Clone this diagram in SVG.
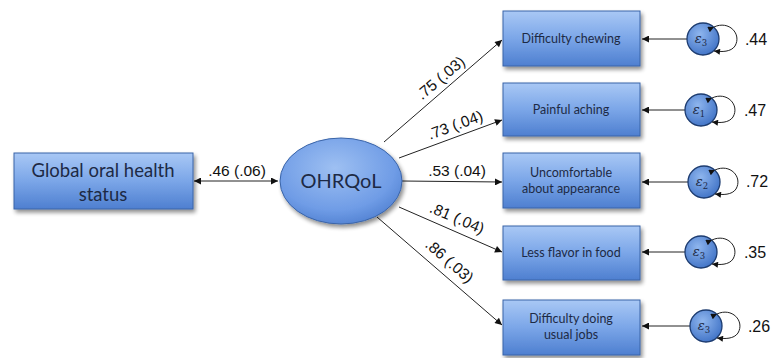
<svg xmlns="http://www.w3.org/2000/svg" width="771" height="358" viewBox="0 0 771 358">
<defs>
<linearGradient id="boxg" x1="0" y1="0" x2="0" y2="1">
<stop offset="0" stop-color="#a9c8f5"/>
<stop offset="0.5" stop-color="#7ba6e8"/>
<stop offset="1" stop-color="#4e7fd0"/>
</linearGradient>
<radialGradient id="ellg" cx="0.45" cy="0.35" r="0.7">
<stop offset="0" stop-color="#9ec0f2"/>
<stop offset="0.7" stop-color="#6f9ce6"/>
<stop offset="1" stop-color="#4f7fd0"/>
</radialGradient>
<radialGradient id="errg" cx="0.4" cy="0.35" r="0.7">
<stop offset="0" stop-color="#8fb6ee"/>
<stop offset="1" stop-color="#3f72c6"/>
</radialGradient>
<filter id="sh" x="-10%" y="-10%" width="130%" height="130%">
<feGaussianBlur in="SourceAlpha" stdDeviation="2"/>
<feOffset dx="2" dy="3"/>
<feComponentTransfer><feFuncA type="linear" slope="0.45"/></feComponentTransfer>
<feMerge><feMergeNode/><feMergeNode in="SourceGraphic"/></feMerge>
</filter>
<marker id="ah" viewBox="0 0 10 10" refX="10" refY="5" markerWidth="10" markerHeight="7" markerUnits="userSpaceOnUse" orient="auto-start-reverse">
<path d="M0,0 L10,5 L0,10 z" fill="#111"/>
</marker>
<marker id="sm" viewBox="0 0 10 10" refX="10" refY="5" markerWidth="7" markerHeight="6" markerUnits="userSpaceOnUse" orient="auto">
<path d="M0,0 L10,5 L0,10 z" fill="#111"/>
</marker>
</defs>
<style>
.box{fill:url(#boxg);stroke:#3a64a8;stroke-width:1;filter:url(#sh)}
.bt{font-family:Lato,"Open Sans",sans-serif;font-size:12.5px;fill:#1d2a45;text-anchor:middle}
.lt{font-family:Lato,"Open Sans",sans-serif;font-size:18.5px;fill:#1d2a45;text-anchor:middle}
.pl{font-family:"Liberation Sans",Arial,sans-serif;font-size:15.5px;fill:#111;text-anchor:middle}
.ev{font-family:"Liberation Sans",Arial,sans-serif;font-size:16px;fill:#111;text-anchor:middle}
.ln{stroke:#222;stroke-width:1;fill:none}
.err{fill:url(#errg);stroke:#1d3c70;stroke-width:1.3}
.et{font-family:"DejaVu Serif","Liberation Serif",serif;font-style:italic;font-size:13px;fill:#1d2a45;text-anchor:middle}
</style>
<g id="connectors">
<line class="ln" x1="194" y1="181" x2="278" y2="181" marker-start="url(#ah)" marker-end="url(#ah)"/>
<line class="ln" x1="384" y1="142" x2="502" y2="40" marker-end="url(#ah)"/>
<line class="ln" x1="399" y1="158" x2="502" y2="120" marker-end="url(#ah)"/>
<line class="ln" x1="402" y1="181" x2="502" y2="182" marker-end="url(#ah)"/>
<line class="ln" x1="399" y1="207" x2="502" y2="252" marker-end="url(#ah)"/>
<line class="ln" x1="377" y1="217" x2="502" y2="325" marker-end="url(#ah)"/>
<line class="ln" x1="687" y1="39" x2="642" y2="39" marker-end="url(#ah)"/>
<line class="ln" x1="685" y1="110" x2="642" y2="110" marker-end="url(#ah)"/>
<line class="ln" x1="688" y1="182" x2="642" y2="182" marker-end="url(#ah)"/>
<line class="ln" x1="685" y1="252" x2="642" y2="252" marker-end="url(#ah)"/>
<line class="ln" x1="690" y1="326" x2="642" y2="326" marker-end="url(#ah)"/>
<text class="pl" x="237" y="176">.46 (.06)</text>
<text class="pl" transform="translate(444,82) rotate(-40)">.75 (.03)</text>
<text class="pl" transform="translate(457,130) rotate(-20)">.73 (.04)</text>
<text class="pl" x="457" y="176">.53 (.04)</text>
<text class="pl" transform="translate(455,223) rotate(23)">.81 (.04)</text>
<text class="pl" transform="translate(446,265) rotate(41)">.86 (.03)</text>
</g>
<g id="global">
<rect class="box" x="14" y="153" width="179" height="56"/>
<text class="lt" x="103" y="177">Global oral health</text>
<text class="lt" x="103" y="201">status</text>
</g>
<g id="ohrqol">
<ellipse cx="341" cy="181" rx="61" ry="43" fill="url(#ellg)" stroke="#3a64a8" stroke-width="1" filter="url(#sh)"/>
<text x="341" y="188" font-family="Lato,'Open Sans',sans-serif" font-size="20" fill="#1d2a45" text-anchor="middle">OHRQoL</text>
</g>
<g id="b1">
<rect class="box" x="503" y="11" width="137" height="55"/>
<text class="bt" x="571" y="43">Difficulty chewing</text>
</g>
<g id="b2">
<rect class="box" x="503" y="83" width="137" height="53"/>
<text class="bt" x="571" y="114">Painful aching</text>
</g>
<g id="b3">
<rect class="box" x="503" y="153" width="137" height="55"/>
<text class="bt" x="571" y="177">Uncomfortable</text>
<text class="bt" x="571" y="193">about appearance</text>
</g>
<g id="b4">
<rect class="box" x="503" y="226" width="137" height="54"/>
<text class="bt" x="571" y="257">Less flavor in food</text>
</g>
<g id="b5">
<rect class="box" x="503" y="300" width="137" height="55"/>
<text class="bt" x="571" y="323">Difficulty doing</text>
<text class="bt" x="571" y="339">usual jobs</text>
</g>
<g id="e1">
<circle class="err" cx="703" cy="39" r="16"/>
<text class="et" x="701" y="43">ε<tspan font-size="8.5" font-style="normal" dy="3">3</tspan></text>
<path class="ln" d="M714,27 C729,20 742,34 735,46 C731,52 722,52 714,51" marker-start="url(#sm)" marker-end="url(#sm)"/>
<text class="ev" x="756" y="45">.44</text>
</g>
<g id="e2">
<circle class="err" cx="701" cy="110" r="16"/>
<text class="et" x="699" y="114">ε<tspan font-size="8.5" font-style="normal" dy="3">1</tspan></text>
<path class="ln" d="M712,98 C727,91 740,105 733,117 C729,123 720,123 712,122" marker-start="url(#sm)" marker-end="url(#sm)"/>
<text class="ev" x="755" y="116">.47</text>
</g>
<g id="e3">
<circle class="err" cx="704" cy="182" r="16"/>
<text class="et" x="702" y="186">ε<tspan font-size="8.5" font-style="normal" dy="3">2</tspan></text>
<path class="ln" d="M715,170 C730,163 743,177 736,189 C732,195 723,195 715,194" marker-start="url(#sm)" marker-end="url(#sm)"/>
<text class="ev" x="757" y="187">.72</text>
</g>
<g id="e4">
<circle class="err" cx="701" cy="252" r="16"/>
<text class="et" x="699" y="256">ε<tspan font-size="8.5" font-style="normal" dy="3">3</tspan></text>
<path class="ln" d="M712,240 C727,233 740,247 733,259 C729,265 720,265 712,264" marker-start="url(#sm)" marker-end="url(#sm)"/>
<text class="ev" x="755" y="258">.35</text>
</g>
<g id="e5">
<circle class="err" cx="706" cy="326" r="16"/>
<text class="et" x="704" y="330">ε<tspan font-size="8.5" font-style="normal" dy="3">3</tspan></text>
<path class="ln" d="M717,314 C732,307 745,321 738,333 C734,339 725,339 717,338" marker-start="url(#sm)" marker-end="url(#sm)"/>
<text class="ev" x="759" y="332">.26</text>
</g>
</svg>
